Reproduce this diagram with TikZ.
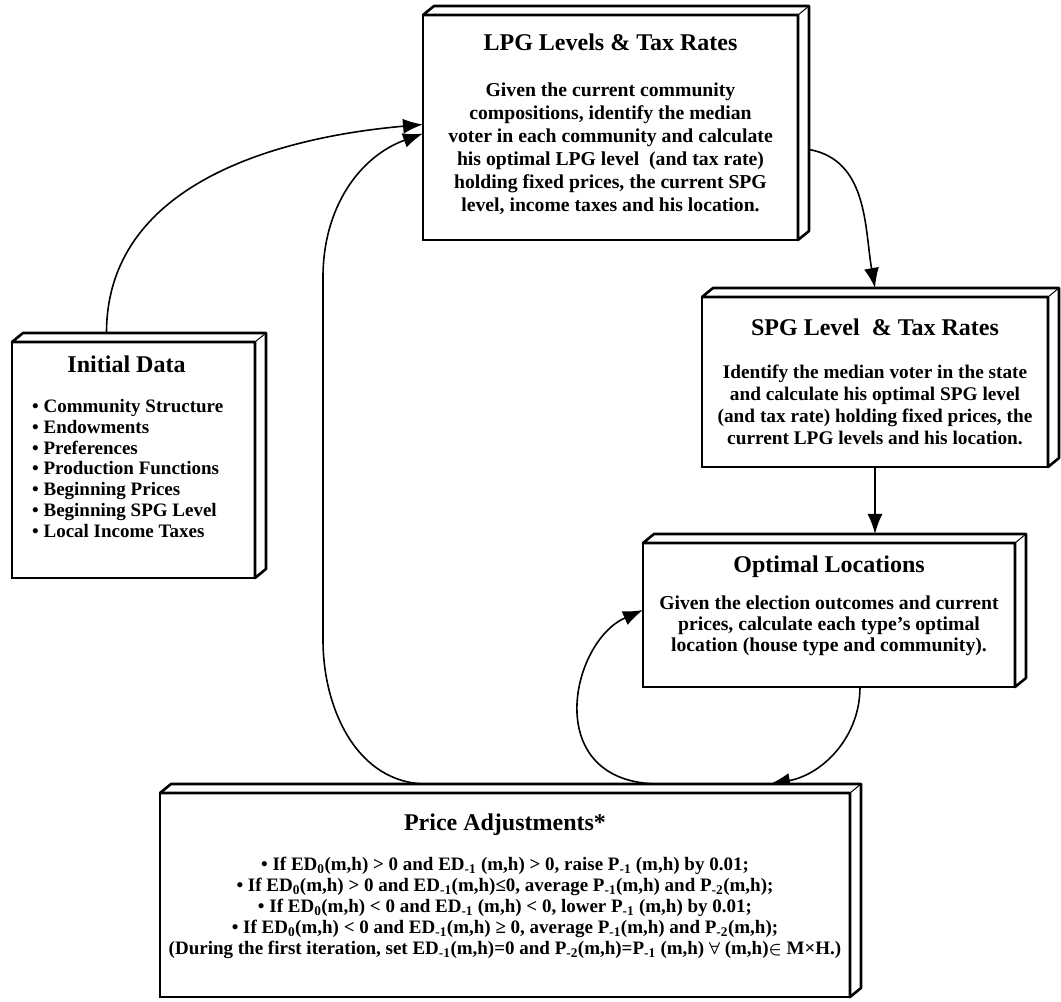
\documentclass[tikz,border=0pt]{standalone}
\usepackage{fontspec}
\setmainfont{Liberation Serif}
\usetikzlibrary{arrows.meta,backgrounds}

\tikzset{
  slab/.style={draw,line width=2.6pt,fill=white,inner sep=0pt,outer sep=0pt},
  face/.style={draw,line width=2.6pt,fill=white,line join=round},
  crease/.style={line width=1pt},
  boxtitle/.style={font=\fontsize{24}{28}\selectfont\bfseries,anchor=base,inner sep=0pt},
  boxbody/.style={font=\fontsize{19.7}{23}\selectfont\bfseries,align=center,anchor=north,inner sep=0pt},
  flow/.style={line width=1.6pt,-{Latex[length=20pt,width=15pt]}},
}

\begin{document}
\begin{tikzpicture}[x=1pt,y=1pt]
  \useasboundingbox (0,0) rectangle (1061,1002);

  % the five stages
  \node[slab,minimum width=375pt,minimum height=225pt] (lpg) at (610.5,874.5) {};
  \node[slab,minimum width=243pt,minimum height=236pt] (init) at (133.5,542) {};
  \node[slab,minimum width=346pt,minimum height=170pt] (spg) at (875,620) {};
  \node[slab,minimum width=372pt,minimum height=144pt] (opt) at (829,387) {};
  \node[slab,minimum width=690pt,minimum height=204pt] (price) at (505,107) {};

  % top and side faces
  \foreach \b in {lpg,init,spg,opt,price}{
    \draw[face] (\b.north west) -- ++(11,9) -- ([shift={(11,9)}]\b.north east)
      -- ([shift={(11,9)}]\b.south east) -- (\b.south east) -- (\b.north east) -- cycle;
    \draw[crease] (\b.north east) -- ++(11,9);
  }

  \node[boxtitle] (lpgtitle) at ([yshift=-36pt]lpg.north) {LPG Levels \& Tax Rates};
  \node[boxbody] (lpgbody) at ([yshift=-68pt]lpg.north)
    {Given the current community\\compositions, identify the median\\voter in each community and calculate\\his optimal LPG level\ \ (and tax rate)\\holding fixed prices, the current SPG\\level, income taxes and his location.};

  \node[boxtitle] (inittitle) at ([shift={(-7pt,-31pt)}]init.north) {Initial Data};
  \node[boxbody,align=left,anchor=north west,font=\fontsize{19}{20.7}\selectfont\bfseries] (initbody)
    at ([shift={(20pt,-57.5pt)}]init.north west)
    {• Community Structure\\• Endowments\\• Preferences\\• Production Functions\\• Beginning Prices\\• Beginning SPG Level\\• Local Income Taxes};

  \node[boxtitle] (spgtitle) at ([yshift=-39pt]spg.north) {SPG Level\ \ \& Tax Rates};
  \node[boxbody,font=\fontsize{19.3}{22}\selectfont\bfseries] (spgbody) at ([yshift=-68pt]spg.north)
    {Identify the median voter in the state\\and calculate his optimal SPG level\\(and tax rate) holding fixed prices, the\\current LPG levels and his location.};

  \node[boxtitle] (opttitle) at ([yshift=-30pt]opt.north) {Optimal Locations};
  \node[boxbody,font=\fontsize{19.7}{21}\selectfont\bfseries] (optbody) at ([yshift=-53pt]opt.north)
    {Given the election outcomes and current\\prices, calculate each type’s optimal\\location (house type and community).};

  \node[boxtitle] (pricetitle) at ([yshift=-38pt]price.north) {Price Adjustments*};
  \node[boxbody,font=\fontsize{19}{21}\selectfont\bfseries] (pricebody) at ([yshift=-64pt]price.north)
    {• If ED\textsubscript{0}(m,h) > 0 and ED\textsubscript{-1} (m,h) > 0, raise P\textsubscript{-1} (m,h) by 0.01;\\
     • If ED\textsubscript{0}(m,h) > 0 and ED\textsubscript{-1}(m,h)≤0, average P\textsubscript{-1}(m,h) and P\textsubscript{-2}(m,h);\\
     • If ED\textsubscript{0}(m,h) < 0 and ED\textsubscript{-1} (m,h) < 0, lower P\textsubscript{-1} (m,h) by 0.01;\\
     • If ED\textsubscript{0}(m,h) < 0 and ED\textsubscript{-1}(m,h) ≥ 0, average P\textsubscript{-1}(m,h) and P\textsubscript{-2}(m,h);\\
     (During the first iteration, set ED\textsubscript{-1}(m,h)=0 and P\textsubscript{-2}(m,h)=P\textsubscript{-1} (m,h) {\boldmath$\forall$} (m,h){\boldmath$\in$} M×H.)};

  % connectors
  \begin{scope}[on background layer]
    \draw[flow] ([shift={(-27,9)}]init.north) to[out=90,in=185] ([yshift=3]lpg.west);
    \draw[flow] ([shift={(-78,9)}]price.north) to[out=180,in=-90] (323,362) -- (323,725)
      to[out=90,in=200] ([yshift=-6]lpg.west);
    \draw[flow] ([shift={(11,-22)}]lpg.east) to[out=-10,in=100] ([yshift=9]spg.north);
    \draw[flow] (spg.south) -- ([shift={(46,9)}]opt.north);
    \draw[flow] ([xshift=31]opt.south) to[out=-90,in=10] ([shift={(265,9)}]price.north);
    \draw[flow] ([shift={(155,9)}]price.north) .. controls (540,218) and (570,360) .. ([yshift=5]opt.west);
  \end{scope}
\end{tikzpicture}
\end{document}
